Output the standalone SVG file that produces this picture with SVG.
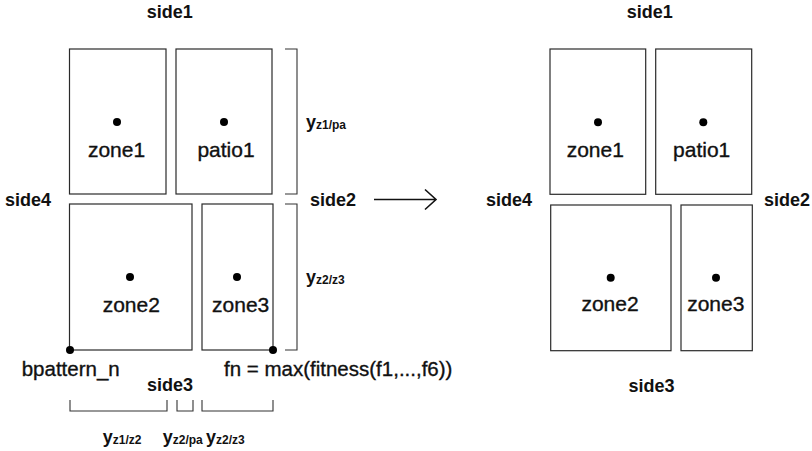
<svg xmlns="http://www.w3.org/2000/svg" width="812" height="451" viewBox="0 0 812 451">
<style>
.room{fill:none;stroke:#2a2a2a;stroke-width:1.2}
.dot{fill:#000}
.lbl{font-family:"Liberation Sans",Arial,sans-serif;font-size:21px;fill:#111;stroke:#111;stroke-width:0.35;text-anchor:middle}
.lbl2{font-family:"Liberation Sans",Arial,sans-serif;font-size:20.5px;fill:#111;stroke:#111;stroke-width:0.35}
.side{font-family:"Liberation Sans",Arial,sans-serif;font-size:18px;font-weight:bold;fill:#111}
.dim{font-family:"Liberation Sans",Arial,sans-serif;font-size:18px;font-weight:bold;fill:#111}
.sub{font-size:12px}
.brk{fill:none;stroke:#333;stroke-width:1.1}
.arr{fill:none;stroke:#111;stroke-width:1.6}
</style>
<rect width="812" height="451" fill="#fff"/>

<!-- Left plan -->
<g id="left-zone1"><rect class="room" x="69.5" y="49" width="96.5" height="145"/><circle class="dot" cx="117" cy="122" r="4"/><text class="lbl" x="116.5" y="156.5">zone1</text></g>
<g id="left-patio1"><rect class="room" x="176" y="49" width="96" height="145"/><circle class="dot" cx="224" cy="122" r="4"/><text class="lbl" x="226" y="156.5">patio1</text></g>
<g id="left-zone2"><rect class="room" x="69.5" y="204" width="122.5" height="146"/><circle class="dot" cx="130" cy="277" r="4"/><text class="lbl" x="131.3" y="311.5">zone2</text></g>
<g id="left-zone3"><rect class="room" x="202" y="204" width="71" height="146"/><circle class="dot" cx="237" cy="277" r="4"/><text class="lbl" x="240.7" y="311.5">zone3</text></g>

<g id="left-sides">
<text class="side" x="169.7" y="18" text-anchor="middle">side1</text>
<text class="side" x="5" y="206">side4</text>
<text class="side" x="310" y="206">side2</text>
<text class="side" x="147" y="391">side3</text>
</g>

<g id="left-dims">
<path class="brk" d="M285,49 H297 V194 H285"/>
<path class="brk" d="M285,204 H297 V350 H285"/>
<path class="brk" d="M70,400 V411 H167 V400"/>
<path class="brk" d="M177,400 V411 H193 V400"/>
<path class="brk" d="M202,400 V411 H273 V400"/>
<text class="dim" x="306" y="128">y<tspan class="sub" dy="1">z1/pa</tspan></text>
<text class="dim" x="306" y="283">y<tspan class="sub" dy="1">z2/z3</tspan></text>
<text class="dim" x="102.7" y="443">y<tspan class="sub" dy="1">z1/z2</tspan></text>
<text class="dim" x="162.7" y="443">y<tspan class="sub" dy="1">z2/pa</tspan></text>
<text class="dim" x="206" y="443">y<tspan class="sub" dy="1">z2/z3</tspan></text>
</g>

<g id="bpattern">
<circle class="dot" cx="70" cy="350" r="4"/>
<text class="lbl2" x="21.7" y="375.5">bpattern_n</text>
</g>
<g id="fitness">
<circle class="dot" cx="273" cy="350" r="4"/>
<text class="lbl2" x="224" y="375.5">fn = max(fitness(f1,...,f6))</text>
</g>

<g id="connectors">
<path class="arr" d="M374,199.5 H435.5 M425,189.5 L436,199.5 L425,209.5"/>
</g>

<!-- Right plan -->
<g id="right-zone1"><rect class="room" x="550" y="49" width="95.7" height="145.3"/><circle class="dot" cx="598" cy="122.3" r="4"/><text class="lbl" x="595.3" y="156.5">zone1</text></g>
<g id="right-patio1"><rect class="room" x="655.7" y="49" width="96" height="145.3"/><circle class="dot" cx="703.3" cy="122.3" r="4"/><text class="lbl" x="701.7" y="156.5">patio1</text></g>
<g id="right-zone2"><rect class="room" x="550.7" y="205" width="120.3" height="145.7"/><circle class="dot" cx="610.7" cy="277.7" r="4"/><text class="lbl" x="610" y="310.5">zone2</text></g>
<g id="right-zone3"><rect class="room" x="681" y="205" width="71.3" height="145.7"/><circle class="dot" cx="716" cy="277.7" r="4"/><text class="lbl" x="715.8" y="310.5">zone3</text></g>

<g id="right-sides">
<text class="side" x="649.7" y="18" text-anchor="middle">side1</text>
<text class="side" x="486" y="206">side4</text>
<text class="side" x="764" y="206">side2</text>
<text class="side" x="651.5" y="391.5" text-anchor="middle">side3</text>
</g>
</svg>
